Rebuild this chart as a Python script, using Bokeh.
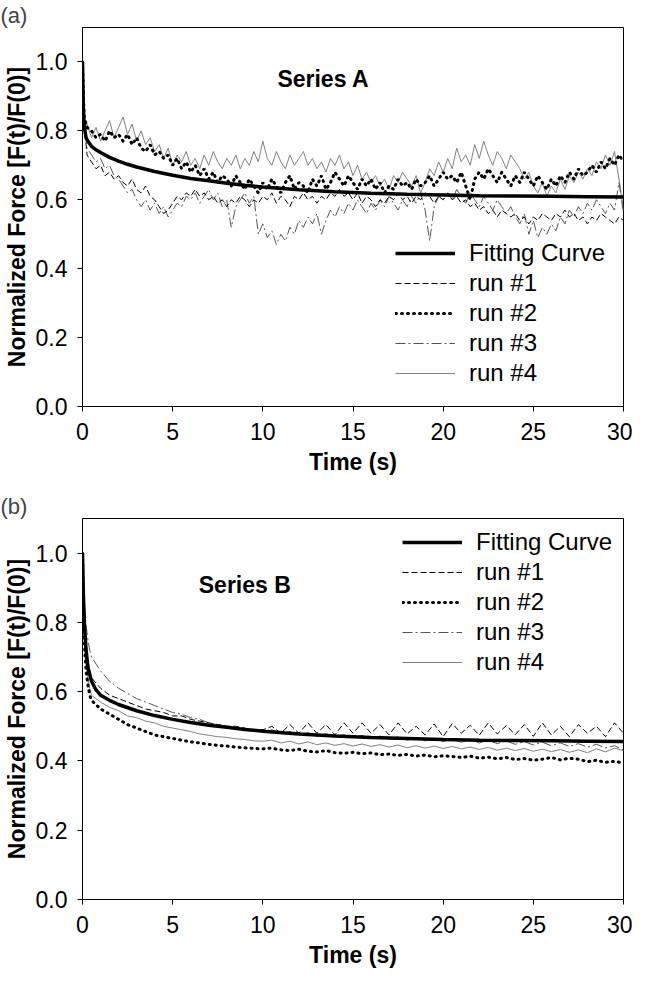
from bokeh.plotting import figure
from bokeh.layouts import column
from bokeh.models import Range1d, Legend, LegendItem, Label, FixedTicker, NumeralTickFormatter
from bokeh.embed import file_html
from bokeh.resources import INLINE

FONT = "Liberation Sans"

x_ticks = [0, 5, 10, 15, 20, 25, 30]
y_ticks = [0.0, 0.2, 0.4, 0.6, 0.8, 1.0]

# ---------------- Panel (a): Series A ----------------
time_a = [0, 0.05, 0.1, 0.2] + [0.25 * k for k in range(1, 121)]

fit_a_t = [0, 0.05, 0.1, 0.2, 0.3, 0.5, 0.75, 1, 1.5, 2, 2.5, 3, 4, 5, 6, 7, 8, 9, 10,
           12, 14, 16, 18, 20, 22, 24, 26, 28, 30]
fit_a_y = [1.0, 0.86, 0.81, 0.78, 0.77, 0.755, 0.745, 0.737, 0.723, 0.712, 0.703, 0.695,
           0.682, 0.671, 0.662, 0.655, 0.648, 0.642, 0.637, 0.629, 0.623, 0.619, 0.616,
           0.614, 0.612, 0.611, 0.610, 0.609, 0.608]

run1_a = [1.0, 0.88, 0.80, 0.76,
          0.73, 0.71, 0.69, 0.70, 0.67, 0.68, 0.66, 0.67,
          0.65, 0.64, 0.66, 0.63, 0.62, 0.64, 0.61, 0.60,
          0.58, 0.56, 0.57, 0.59, 0.61, 0.60, 0.62, 0.61,
          0.63, 0.61, 0.62, 0.60, 0.61, 0.59, 0.60, 0.58,
          0.60, 0.59, 0.61, 0.60, 0.58, 0.60, 0.59, 0.61,
          0.60, 0.62, 0.59, 0.61, 0.60, 0.58, 0.61, 0.60,
          0.62, 0.60, 0.61, 0.59, 0.61, 0.60, 0.62, 0.61,
          0.63, 0.61, 0.62, 0.60, 0.62, 0.59, 0.61, 0.60,
          0.58, 0.60, 0.59, 0.61, 0.60, 0.62, 0.60, 0.61,
          0.59, 0.61, 0.60, 0.62, 0.61, 0.59, 0.61, 0.60,
          0.62, 0.60, 0.61, 0.59, 0.60, 0.58, 0.59, 0.57,
          0.58, 0.56, 0.57, 0.55, 0.57, 0.56, 0.55, 0.56,
          0.54, 0.55, 0.53, 0.55, 0.54, 0.56, 0.55, 0.54,
          0.56, 0.55, 0.57, 0.55, 0.56, 0.54, 0.55, 0.53,
          0.55, 0.54, 0.56, 0.55, 0.54, 0.53, 0.55, 0.54]

run2_a = [1.0, 0.90, 0.84, 0.82,
          0.81, 0.80, 0.78, 0.79, 0.77, 0.80, 0.78, 0.79,
          0.77, 0.79, 0.76, 0.78, 0.75, 0.74, 0.76, 0.73,
          0.74, 0.72, 0.73, 0.70, 0.72, 0.69, 0.71, 0.68,
          0.70, 0.67, 0.69, 0.66, 0.68, 0.65, 0.67, 0.66,
          0.64, 0.67, 0.65, 0.63, 0.66, 0.64, 0.62, 0.65,
          0.63, 0.66, 0.64, 0.62, 0.65, 0.67, 0.63, 0.65,
          0.64, 0.62, 0.66, 0.64, 0.67, 0.63, 0.65, 0.68,
          0.66, 0.64, 0.67, 0.65, 0.63, 0.66, 0.64, 0.66,
          0.63, 0.65, 0.62, 0.64, 0.63, 0.66, 0.64, 0.65,
          0.63, 0.66, 0.64, 0.65, 0.67, 0.64, 0.66, 0.68,
          0.66, 0.67, 0.65, 0.68, 0.64, 0.60, 0.66, 0.68,
          0.66, 0.69, 0.67, 0.65, 0.68, 0.66, 0.64, 0.67,
          0.65, 0.68, 0.66, 0.64, 0.67, 0.65, 0.63, 0.66,
          0.64, 0.67, 0.65, 0.68, 0.66, 0.69, 0.67, 0.68,
          0.70, 0.68, 0.71, 0.69, 0.72, 0.70, 0.73, 0.71]

run3_a = [1.0, 0.86, 0.80, 0.77,
          0.75, 0.73, 0.71, 0.72, 0.69, 0.70, 0.67, 0.66,
          0.64, 0.62, 0.63, 0.60, 0.58, 0.60, 0.57, 0.59,
          0.56, 0.58, 0.55, 0.57, 0.59, 0.58, 0.61, 0.60,
          0.62, 0.59, 0.61, 0.63, 0.60, 0.62, 0.58, 0.60,
          0.52, 0.58, 0.60, 0.62, 0.59, 0.61, 0.50, 0.53,
          0.49, 0.51, 0.47, 0.50, 0.48, 0.52, 0.50, 0.54,
          0.52, 0.55, 0.53, 0.56, 0.50, 0.54, 0.57, 0.55,
          0.58, 0.56, 0.59, 0.57, 0.60, 0.58, 0.56, 0.59,
          0.57, 0.60, 0.58, 0.61, 0.59, 0.57, 0.60, 0.58,
          0.61, 0.59, 0.62, 0.57, 0.48, 0.58, 0.61, 0.60,
          0.62, 0.60, 0.63, 0.61, 0.59, 0.62, 0.60, 0.58,
          0.61, 0.59, 0.57, 0.60, 0.58, 0.56, 0.58, 0.55,
          0.53, 0.56, 0.50, 0.54, 0.49, 0.52, 0.50, 0.53,
          0.51, 0.55, 0.53, 0.57, 0.55, 0.58, 0.56, 0.59,
          0.57, 0.60, 0.58, 0.56, 0.59, 0.57, 0.65, 0.56]

run4_a = [1.0, 0.90, 0.84, 0.80,
          0.82, 0.78, 0.81, 0.77, 0.80, 0.83, 0.78, 0.81,
          0.84, 0.79, 0.82, 0.77, 0.80, 0.76, 0.78, 0.74,
          0.76, 0.72, 0.75, 0.70, 0.73, 0.71, 0.74, 0.70,
          0.72, 0.69, 0.73, 0.70, 0.74, 0.71, 0.69, 0.72,
          0.70, 0.73, 0.69, 0.72, 0.70, 0.74, 0.71, 0.77,
          0.72, 0.70, 0.74, 0.71, 0.69, 0.73, 0.70, 0.72,
          0.74, 0.70, 0.72, 0.69, 0.71, 0.68, 0.72, 0.70,
          0.73, 0.69, 0.71, 0.67, 0.70, 0.66, 0.68, 0.65,
          0.67, 0.64, 0.66, 0.63, 0.67, 0.65, 0.68, 0.66,
          0.64, 0.67, 0.62, 0.65, 0.69, 0.67, 0.71, 0.68,
          0.72, 0.69, 0.75, 0.71, 0.73, 0.70, 0.76, 0.72,
          0.77, 0.73, 0.70, 0.74, 0.72, 0.69, 0.73, 0.71,
          0.69, 0.66, 0.68, 0.64, 0.62, 0.65, 0.61, 0.64,
          0.62, 0.66, 0.63, 0.67, 0.65, 0.68, 0.66, 0.69,
          0.67, 0.71, 0.69, 0.73, 0.70, 0.74, 0.66, 0.57]

# ---------------- Panel (b): Series B ----------------
time_b = [0, 0.05, 0.1, 0.2, 0.3, 0.4] + [0.5 * k for k in range(1, 61)]

fit_b_t = [0, 0.05, 0.1, 0.2, 0.3, 0.5, 0.75, 1, 1.5, 2, 3, 4, 5, 6, 7, 8, 9, 10,
           12, 14, 16, 18, 20, 22, 24, 26, 28, 30]
fit_b_y = [1.0, 0.88, 0.80, 0.72, 0.67, 0.63, 0.605, 0.59, 0.575, 0.563, 0.545, 0.531,
           0.52, 0.511, 0.503, 0.497, 0.491, 0.486, 0.478, 0.472, 0.468, 0.465, 0.462,
           0.460, 0.459, 0.458, 0.457, 0.456]

run1_b = [1.0, 0.90, 0.82, 0.74, 0.69, 0.66,
          0.64, 0.61, 0.59, 0.58, 0.57, 0.56, 0.55, 0.545, 0.54, 0.53,
          0.53, 0.52, 0.515, 0.51, 0.505, 0.50, 0.50, 0.495, 0.49, 0.49,
          0.50, 0.48, 0.505, 0.48, 0.51, 0.48, 0.505, 0.475, 0.51, 0.48,
          0.51, 0.48, 0.505, 0.475, 0.51, 0.478, 0.50, 0.475, 0.507, 0.47,
          0.508, 0.48, 0.503, 0.474, 0.51, 0.478, 0.502, 0.476, 0.505, 0.471,
          0.51, 0.475, 0.50, 0.47, 0.505, 0.48, 0.50, 0.47, 0.51, 0.48]

run2_b = [1.0, 0.85, 0.74, 0.66, 0.62, 0.59,
          0.575, 0.55, 0.535, 0.52, 0.505, 0.495, 0.485, 0.475, 0.47, 0.465,
          0.46, 0.455, 0.452, 0.448, 0.445, 0.443, 0.44, 0.438, 0.436, 0.435,
          0.437, 0.432, 0.43, 0.434, 0.428, 0.426, 0.43, 0.424, 0.422, 0.425,
          0.421, 0.423, 0.418, 0.42, 0.416, 0.419, 0.414, 0.417, 0.412, 0.415,
          0.413, 0.41, 0.414, 0.408, 0.411, 0.406, 0.41, 0.404, 0.407, 0.402,
          0.405, 0.41, 0.403, 0.408, 0.405, 0.398, 0.402, 0.396, 0.399, 0.394]

run3_b = [1.0, 0.92, 0.86, 0.79, 0.75, 0.72,
          0.70, 0.66, 0.63, 0.61, 0.595, 0.58, 0.57, 0.56, 0.55, 0.54,
          0.535, 0.525, 0.52, 0.51, 0.505, 0.50, 0.495, 0.49, 0.488, 0.485,
          0.49, 0.478, 0.485, 0.474, 0.482, 0.47, 0.479, 0.468, 0.476, 0.466,
          0.474, 0.464, 0.472, 0.462, 0.47, 0.46, 0.468, 0.458, 0.466, 0.456,
          0.464, 0.454, 0.462, 0.452, 0.46, 0.45, 0.458, 0.448, 0.456, 0.446,
          0.454, 0.444, 0.452, 0.442, 0.45, 0.44, 0.448, 0.438, 0.444, 0.432]

run4_b = [1.0, 0.86, 0.76, 0.68, 0.64, 0.61,
          0.59, 0.57, 0.555, 0.545, 0.53, 0.525, 0.515, 0.51, 0.50, 0.495,
          0.49, 0.485, 0.478, 0.474, 0.47, 0.468, 0.464, 0.462, 0.458, 0.457,
          0.46, 0.452, 0.457, 0.449, 0.455, 0.447, 0.452, 0.445, 0.45, 0.443,
          0.449, 0.442, 0.447, 0.44, 0.446, 0.438, 0.444, 0.437, 0.443, 0.436,
          0.442, 0.435, 0.44, 0.433, 0.439, 0.431, 0.437, 0.43, 0.436, 0.428,
          0.434, 0.427, 0.433, 0.425, 0.432, 0.424, 0.435, 0.426, 0.437, 0.43]

legend_labels = ["Fitting Curve", "run #1", "run #2", "run #3", "run #4"]
y_title = "Normalized Force [F(t)/F(0)]"
x_title = "Time (s)"

STYLES = {
    "fit": dict(line_color="black", line_width=3.5),
    "run1": dict(line_color="black", line_width=1, line_dash="6 3"),
    "run2": dict(line_color="black", line_width=3, line_dash="1 5", line_cap="round"),
    "run3": dict(line_color="#555555", line_width=1, line_dash="10 3 2 3"),
    "run4": dict(line_color="#808080", line_width=1),
}


def make_panel(tag, series_text, series_x, series_y, t, runs, fit_t, fit_y,
               legend_loc, frame_h, top, bottom):
    p = figure(frame_width=541, frame_height=frame_h,
               x_range=Range1d(0, 30), y_range=Range1d(0, 1.1),
               output_backend="svg", toolbar_location=None,
               min_border_left=82, min_border_right=9,
               min_border_top=top, min_border_bottom=bottom)
    p.grid.visible = False
    p.outline_line_color = "black"
    p.outline_line_width = 1
    p.background_fill_color = "white"
    p.border_fill_color = "white"

    p.xaxis.ticker = FixedTicker(ticks=x_ticks)
    p.yaxis.ticker = FixedTicker(ticks=y_ticks)
    p.yaxis.formatter = NumeralTickFormatter(format="0.0")
    for ax in (p.xaxis[0], p.yaxis[0]):
        ax.minor_tick_line_color = None
        ax.major_tick_in = 0
        ax.major_tick_out = 5
        ax.major_tick_line_color = "black"
        ax.axis_line_color = "black"
        ax.major_label_text_font = FONT
        ax.major_label_text_font_size = "23px"
        ax.major_label_text_color = "black"
        ax.major_label_standoff = 11
        ax.axis_label_text_font = FONT
        ax.axis_label_text_font_size = "23px"
        ax.axis_label_text_font_style = "bold"
        ax.axis_label_text_color = "black"
        ax.axis_label_standoff = 6
    p.xaxis.axis_label = x_title
    p.yaxis.axis_label = y_title
    p.yaxis.axis_label_text_font_size = "23px"
    p.yaxis.axis_label_standoff = 3
    p.yaxis.major_label_standoff = 10

    p.title.text = tag
    p.title.text_font = FONT
    p.title.text_font_size = "22px"
    p.title.text_font_style = "normal"
    p.title.align = "left"
    p.title.offset = -82
    p.title.standoff = 0

    r4 = p.line(t, runs[3], **STYLES["run4"])
    r3 = p.line(t, runs[2], **STYLES["run3"])
    r1 = p.line(t, runs[0], **STYLES["run1"])
    r2 = p.line(t, runs[1], **STYLES["run2"])
    rf = p.line(fit_t, fit_y, **STYLES["fit"])

    items = [LegendItem(label=lab, renderers=[r])
             for lab, r in zip(legend_labels, [rf, r1, r2, r3, r4])]
    leg = Legend(items=items, location=legend_loc, border_line_color=None,
                 background_fill_alpha=0, padding=0, margin=0, spacing=2,
                 glyph_width=60, glyph_height=20, label_height=20,
                 label_standoff=14, label_text_font=FONT,
                 label_text_font_size="24px", label_text_color="black")
    p.add_layout(leg)

    p.add_layout(Label(x=series_x, y=series_y, text=series_text,
                       text_font=FONT, text_font_size="23px",
                       text_font_style="bold", text_align="center",
                       text_baseline="middle", text_color="black"))
    return p


pa = make_panel("(a)", "Series A", 13.36, 0.951, time_a,
                [run1_a, run2_a, run3_a, run4_a], fit_a_t, fit_a_y,
                (313, 19), 379, 25, 80)
pb = make_panel("(b)", "Series B", 9.0, 0.907, time_b,
                [run1_b, run2_b, run3_b, run4_b], fit_b_t, fit_b_y,
                (320, 223), 381, 32, 77)

layout = column(pa, pb, spacing=0)
open("out.html", "w").write(file_html(layout, INLINE))
